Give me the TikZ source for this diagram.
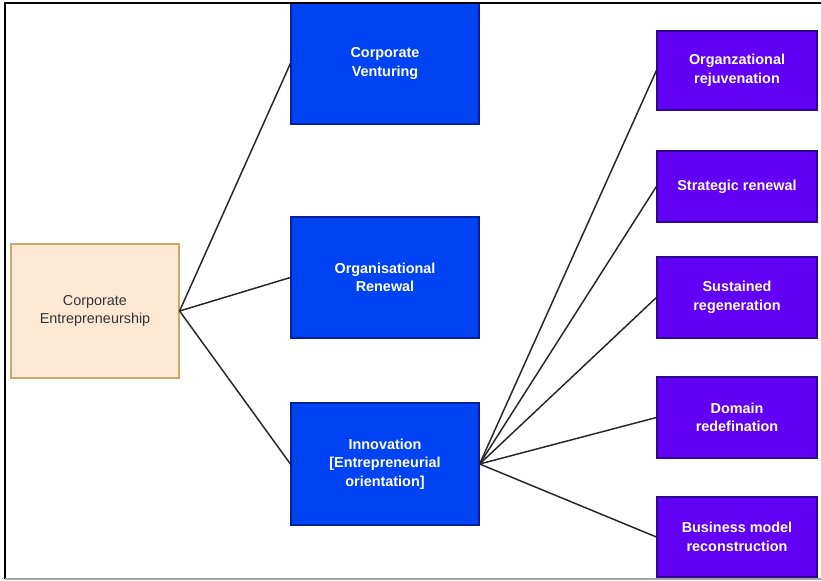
\documentclass[tikz,border=0pt]{standalone}
\usepackage{fontspec}
\setmainfont{Liberation Sans}
\definecolor{ceFill}{HTML}{FDE9D3}
\definecolor{ceDraw}{HTML}{C9A86A}
\definecolor{blueFill}{HTML}{0043F2}
\definecolor{blueDraw}{HTML}{0A1FA0}
\definecolor{purpFill}{HTML}{6200F5}
\definecolor{purpDraw}{HTML}{2E0590}
\definecolor{txtGray}{HTML}{333333}
\definecolor{lineGray}{HTML}{262626}
\tikzset{
  x=0.75pt, y=-0.75pt,
  rootbox/.style={draw=ceDraw, fill=ceFill, line width=0.9pt, align=center,
    text=txtGray, font=\fontsize{10.8}{14}\selectfont, inner sep=0pt},
  bluebox/.style={draw=blueDraw, fill=blueFill, line width=0.9pt, align=center,
    text=white, font=\bfseries\fontsize{10.8}{14}\selectfont, inner sep=0pt,
    minimum width=141pt},
  purpbox/.style={draw=purpDraw, fill=purpFill, line width=0.9pt, align=center,
    text=white, font=\bfseries\fontsize{10.8}{14}\selectfont, inner sep=0pt,
    minimum width=120pt},
  link/.style={draw=lineGray, line width=1.1pt},
  frameline/.style={line width=1.5pt}
}
\begin{document}
\begin{tikzpicture}
\useasboundingbox (0,0) rectangle (821,581);
\fill[white] (0,0) rectangle (821,581);
% nodes
\node[rootbox, minimum width=126pt, minimum height=100.5pt] (ce) at (95,311) {Corporate\\Entrepreneurship};
\node[bluebox, minimum height=90.75pt] (cv) at (385,63.5) {Corporate\\Venturing};
\node[bluebox, minimum height=90.75pt] (or) at (385,277.5) {Organisational\\Renewal};
\node[bluebox, minimum height=91.5pt] (in) at (385,464) {Innovation\\{[}Entrepreneurial\\orientation{]}};
\node[purpbox, minimum height=59.25pt] (p1) at (737,70.5) {Organzational\\rejuvenation};
\node[purpbox, minimum height=53.25pt] (p2) at (737,186.5) {Strategic renewal};
\node[purpbox, minimum height=60.75pt] (p3) at (737,297.5) {Sustained\\regeneration};
\node[purpbox, minimum height=60.75pt] (p4) at (737,417.5) {Domain\\redefination};
\node[purpbox, minimum height=60pt] (p5) at (737,537) {Business model\\reconstruction};
% connectors
\draw[link] (ce.east) -- (cv.west);
\draw[link] (ce.east) -- (or.west);
\draw[link] (ce.east) -- (in.west);
\foreach \p in {p1,p2,p3,p4,p5}{
  \draw[link] (in.east) -- (\p.west);
}
% frame
\coordinate (ftl) at (5,3);
\coordinate (ftr) at (821,3);
\coordinate (fbl) at (5,579);
\coordinate (fbr) at (821,579);
\draw[frameline, black] (ftr) -- (ftl) -- (fbl);
\draw[frameline, gray!70] (fbl) -- (fbr);
\end{tikzpicture}
\end{document}
